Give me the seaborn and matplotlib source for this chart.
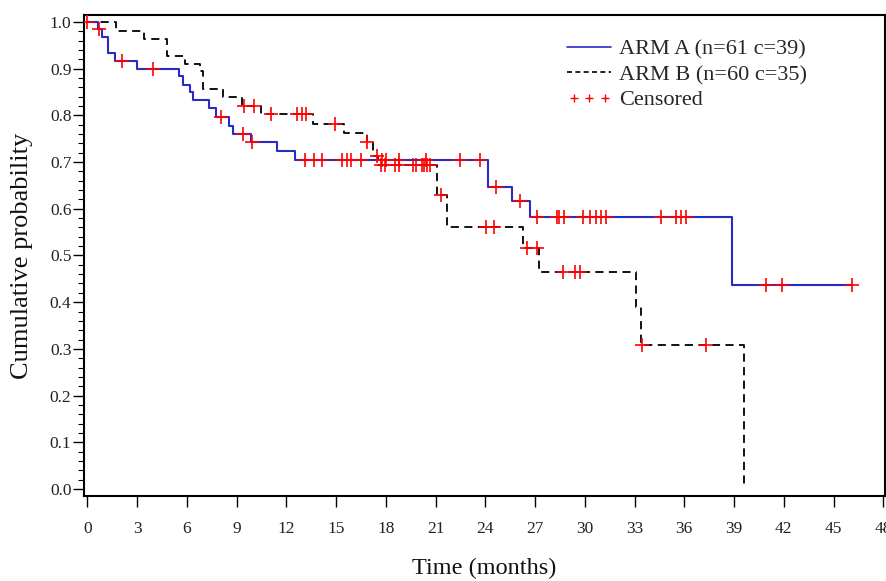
import numpy as np
import pandas as pd
import matplotlib
matplotlib.use("Agg")
import matplotlib.pyplot as plt
from matplotlib.lines import Line2D
from matplotlib.legend_handler import HandlerLine2D
from matplotlib.ticker import MultipleLocator
import seaborn as sns

# Kaplan-Meier step values
arm_a_time = [0, 0.63, 0.89, 1.27, 1.69, 3.02, 5.51, 5.79, 6.19, 6.39, 7.36, 7.78,
              8.53, 8.77, 9.85, 11.42, 12.5, 24.17, 25.6, 26.7, 38.9, 46.1]
arm_a_surv = [1.0, 0.984, 0.967, 0.934, 0.917, 0.899, 0.884, 0.866, 0.849, 0.833, 0.815, 0.796,
              0.777, 0.760, 0.742, 0.724, 0.705, 0.646, 0.617, 0.582, 0.437, 0.437]
arm_a_cens = [0.0, 0.7, 2.11, 3.94, 8.06, 9.39, 9.95, 13.13, 13.67, 14.18, 15.38, 15.64,
              15.9, 16.5, 17.75, 18.0, 18.8, 20.4, 22.5, 23.7, 24.65, 26.1, 27.1, 28.3,
              28.45, 28.75, 29.9, 30.3, 30.7, 31.0, 31.3, 34.6, 35.5, 35.8, 36.1, 40.9,
              41.9, 46.1]

arm_b_time = [0, 1.73, 3.44, 4.83, 5.91, 6.80, 7.0, 8.2, 9.35, 10.46, 13.6, 15.48,
              16.85, 17.2, 17.5, 21.07, 21.68, 26.3, 27.24, 33.07, 33.38, 39.57]
arm_b_surv = [1.0, 0.981, 0.964, 0.928, 0.911, 0.894, 0.857, 0.839, 0.820, 0.802, 0.782, 0.762,
              0.744, 0.713, 0.693, 0.630, 0.562, 0.517, 0.465, 0.389, 0.309, 0.0]
arm_b_cens = [9.47, 10.05, 11.06, 12.67, 12.93, 13.19, 14.94, 16.85, 17.45, 17.7, 17.95,
              18.56, 18.8, 19.66, 19.8, 20.17, 20.33, 20.47, 20.67, 21.33, 24.03, 24.53,
              26.54, 27.1, 28.7, 29.4, 29.7, 33.44, 37.3]

legend_labels = ["ARM A (n=61 c=39)", "ARM B (n=60 c=35)", "Censored"]


def step_value(times, surv, t):
    idx = np.searchsorted(times, t, side="right") - 1
    return np.asarray(surv)[idx]


df_a = pd.DataFrame({"time": arm_a_time, "surv": arm_a_surv})
df_b = pd.DataFrame({"time": arm_b_time, "surv": arm_b_surv})
cens = pd.DataFrame({
    "time": arm_a_cens + arm_b_cens,
    "surv": list(step_value(arm_a_time, arm_a_surv, arm_a_cens))
    + list(step_value(arm_b_time, arm_b_surv, arm_b_cens)),
})

sns.set_style("ticks")
plt.rcParams["font.family"] = ["Liberation Serif", "DejaVu Serif"]

fig = plt.figure(figsize=(8.87, 5.81), dpi=100)
ax = fig.add_axes([0.0947, 0.1463, 0.903, 0.828])

blue = "#2a2ac4"
sns.lineplot(data=df_b, x="time", y="surv", ax=ax, color="black", lw=1.3,
             linestyle=(0, (4.5, 3)), drawstyle="steps-post", estimator=None, sort=False)
sns.lineplot(data=df_a, x="time", y="surv", ax=ax, color=blue, lw=1.5,
             drawstyle="steps-post", estimator=None, sort=False)
sns.scatterplot(data=cens, x="time", y="surv", ax=ax, marker="+", color="red",
                s=90, linewidth=1.2, zorder=5)

ax.set_xlim(-0.2, 48.1)
ax.set_ylim(-0.015, 1.015)
ax.xaxis.set_major_locator(MultipleLocator(3))
ax.yaxis.set_major_locator(MultipleLocator(0.1))
ax.yaxis.set_minor_locator(MultipleLocator(0.02))
ax.yaxis.set_major_formatter(matplotlib.ticker.FormatStrFormatter("%.1f"))
ax.tick_params(axis="both", which="major", direction="out", length=8, width=1,
               labelsize=12.5, color="black", labelcolor="#222222")
ax.tick_params(axis="x", pad=10)
ax.tick_params(axis="y", pad=1)
ax.tick_params(axis="y", which="minor", direction="out", length=4, width=0.8, color="black")

for s in ax.spines.values():
    s.set_color("black")
    s.set_linewidth(1.5)

ax.set_xlabel("Time (months)", fontsize=17.5, labelpad=15, color="#111111")
ax.set_ylabel("Cumulative probability", fontsize=19, labelpad=12, color="#111111")

handles = [
    Line2D([], [], color=blue, lw=1.2),
    Line2D([], [], color="black", lw=1.2, linestyle=(0, (3, 2))),
    Line2D([], [], color="red", linestyle="none", marker="+", markersize=6, mew=1),
]
ax.legend(handles, legend_labels, loc="upper left", bbox_to_anchor=(0.603, 0.950),
          frameon=False, fontsize=16, handlelength=2.0, handletextpad=0.35,
          labelspacing=0.22, borderpad=0, borderaxespad=0,
          handler_map={handles[2]: HandlerLine2D(numpoints=3)})

plt.savefig("out.png", dpi=100)
